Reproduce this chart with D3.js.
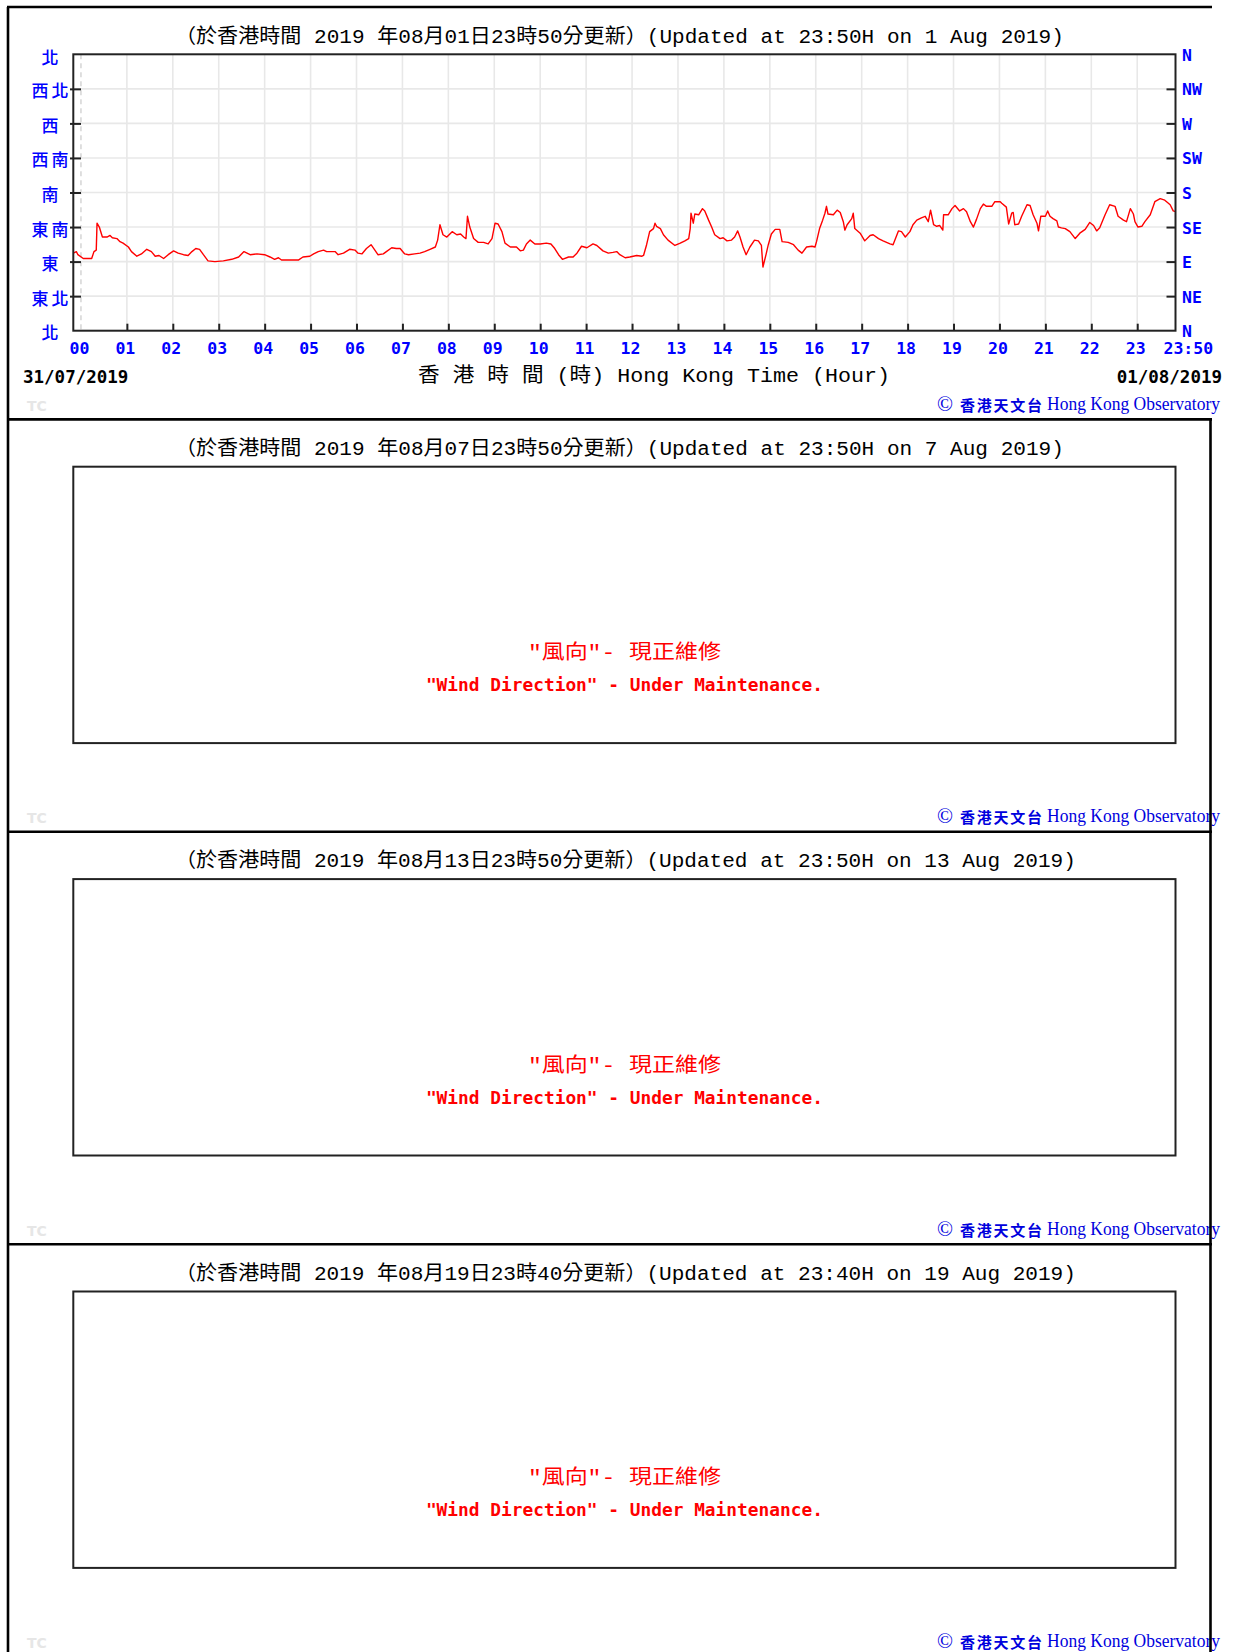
<!DOCTYPE html>
<html>
<head>
<meta charset="utf-8">
<script src="https://cdn.jsdelivr.net/npm/d3@7"></script>
<style>
html, body { margin: 0; padding: 0; background: #fff; }
svg { display: block; }
</style>
</head>
<body>
<svg id="chart" width="1233" height="1652"></svg>
<script>
// wind direction trace, minutes after 00:00 on 01/08/2019 (first point is 23:50 the day before)
var traceMinutes = [-10,-6,-4,3,14,17,20,21,24,28,34,38,41,47,51,55,62,66,73,79,86,92,97,102,108,114,121,127,134,140,145,150,155,160,166,175,186,197,206,213,221,230,
	240,247,253,258,262,284,290,299,304,310,317,321,332,336,343,351,358,362,367,373,379,384,388,395,399,406,412,417,423,428,436,443,449,456,463,466,469,473,
	478,485,491,496,500,503,505,508,513,519,526,532,537,541,545,550,554,561,569,574,578,582,587,593,600,608,614,619,624,629,637,643,648,654,661,669,674,682,689,695,700,704,711,717,
	726,733,735,739,743,748,750,752,757,761,767,776,783,789,794,796,797,800,802,807,812,815,820,824,828,835,839,844,850,854,858,861,865,869,874,880,885,889,891,895,898,902,907,913,916,924,931,937,942,948,955,959,
	961,965,969,972,974,976,983,988,992,996,998,1001,1007,1009,1011,1018,1024,1031,1035,1042,1048,1057,1061,1068,1072,1077,1083,1087,1092,1098,1103,1107,1110,1114,1118,1122,1126,1127,1133,1138,1142,1148,1153,1157,1162,1166,1170,1175,1179,1183,1190,1194,1201,
	1203,1209,1212,1216,1218,1220,1225,1229,1236,1240,1244,1249,1251,1254,1260,1263,1266,1270,1275,1277,1281,1286,1292,1299,1305,1312,1318,1323,1327,1331,1338,1344,1351,1355,1362,1366,1371,1375,1377,1381,1386,1390,1397,1403,1410,1416,1423,1427,1430];
var traceDegrees = [101,103,99,94,94,103,105,140,135,122,122,124,121,120,116,114,109,103,97,100,106,103,97,98,94,99,104,101,99,98,103,107,106,99,91,90,91,93,96,103,99,100,
	99,96,93,95,92,92,96,97,100,103,105,103,103,99,101,106,105,101,100,107,112,105,99,100,103,108,107,107,100,99,100,101,103,106,109,118,138,125,
	122,129,125,126,122,120,149,135,120,115,115,113,120,140,139,129,114,109,109,104,105,113,118,113,113,114,113,107,99,93,96,96,101,110,108,113,111,104,101,102,103,99,95,96,
	98,97,98,112,129,133,140,136,133,125,118,111,114,117,120,133,153,140,152,151,159,156,144,135,125,120,121,117,118,122,130,122,109,99,109,118,117,111,83,99,112,126,132,132,116,115,112,105,101,109,110,109,
	116,133,144,153,162,152,151,157,154,142,131,138,146,153,133,127,117,124,125,120,117,113,112,130,129,122,129,138,144,147,149,142,157,138,136,137,131,151,151,159,163,156,159,155,142,135,145,159,165,162,162,168,168,
	166,161,139,153,154,138,139,149,164,163,151,140,130,149,149,156,149,146,143,135,134,133,129,120,127,132,141,137,130,134,151,164,162,149,144,142,159,152,142,135,136,142,151,168,172,170,164,156,155];

var hourLabels = ["00","01","02","03","04","05","06","07","08","09","10","11",
	"12","13","14","15","16","17","18","19","20","21","22","23"];
var endLabel = "23:50";
var dirDegrees = [0, 45, 90, 135, 180, 225, 270, 315, 360];
var dirLabelsCn = ["北", "東北", "東", "東南", "南", "西南", "西", "西北", "北"];
var dirLabelsEn = ["N", "NE", "E", "SE", "S", "SW", "W", "NW", "N"];
var dateLabels = ["31/07/2019", "01/08/2019"];

var panelTitles = [
	"（於香港時間 2019 年08月01日23時50分更新）(Updated at 23:50H on 1 Aug 2019)",
	"（於香港時間 2019 年08月07日23時50分更新）(Updated at 23:50H on 7 Aug 2019)",
	"（於香港時間 2019 年08月13日23時50分更新）(Updated at 23:50H on 13 Aug 2019)",
	"（於香港時間 2019 年08月19日23時40分更新）(Updated at 23:40H on 19 Aug 2019)"
];
var axisTitle = "香 港 時 間 (時) Hong Kong Time (Hour)";
var noticeCn = "\"風向\"- 現正維修";
var noticeEn = "\"Wind Direction\" - Under Maintenance.";
var creditCn = "香港天文台";
var creditEn = "Hong Kong Observatory";


var blue = "#0000ff";
var panelStep = 412.4;
var panelTops = panelTitles.map(function(t, i){ return 7 + i * panelStep; });
var plot = { left: 73.3, right: 1175.5, top: 47.3, height: 276.4 };
var cjk = "'Noto Sans CJK TC', sans-serif";
var mono = "'Liberation Mono', 'Noto Sans CJK TC', monospace";
var boldMono = "'DejaVu Sans Mono', monospace";

var x = d3.scaleLinear()
	.domain([traceMinutes[0], traceMinutes[traceMinutes.length - 1]])
	.range([plot.left, plot.right]);
var y = d3.scaleLinear()
	.domain([0, 360])
	.range([plot.top + plot.height, plot.top]);

var svg = d3.select("#chart");

// width of a title in the old bitmap font: full-width glyphs take a wider cell
function cellWidth(str, full, half){
	var w = 0;
	for (var c of str) { w += c.charCodeAt(0) > 0x2e80 ? full : half; }
	return w;
}

function addTitle(g, text){
	g.append("text")
		.attr("x", 175)
		.attr("y", 30)
		.attr("dominant-baseline", "central")
		.attr("font-family", mono)
		.attr("font-size", 20)
		.attr("fill", "#000")
		.attr("textLength", cellWidth(text, 23, 12.06))
		.attr("lengthAdjust", "spacingAndGlyphs")
		.text(text);
}

function addFooter(g){
	g.append("text")
		.attr("x", 27).attr("y", 399)
		.attr("dominant-baseline", "central")
		.attr("font-family", "'DejaVu Sans', sans-serif")
		.attr("font-weight", "bold")
		.attr("font-size", 14)
		.attr("fill", "#e6e6e6")
		.text("TC");
	var credit = g.append("text")
		.attr("y", 397)
		.attr("dominant-baseline", "central")
		.attr("fill", "#0000dd");
	credit.append("tspan")
		.attr("x", 937)
		.attr("font-family", "'Liberation Serif', serif")
		.attr("font-size", 21)
		.text("©");
	credit.append("tspan")
		.attr("x", 960)
		.attr("font-family", cjk)
		.attr("font-weight", "bold")
		.attr("font-size", 15)
		.attr("textLength", 82)
		.attr("lengthAdjust", "spacing")
		.text(creditCn);
	credit.append("tspan")
		.attr("x", 1047)
		.attr("font-family", "'Liberation Serif', serif")
		.attr("font-size", 18)
		.attr("textLength", 173)
		.attr("lengthAdjust", "spacingAndGlyphs")
		.text(creditEn);
}

function addGrid(g){
	var hours = hourLabels.map(function(h, i){ return i * 60; });
	g.append("g").selectAll("line")
		.data(hours)
		.join("line")
		.attr("x1", function(d){ return x(d); })
		.attr("x2", function(d){ return x(d); })
		.attr("y1", plot.top)
		.attr("y2", plot.top + plot.height)
		.attr("stroke", function(d){ return d === 0 ? "#d8d8d8" : "#e8e8e8"; })
		.attr("stroke-width", 1.6)
		.attr("stroke-dasharray", function(d){ return d === 0 ? "5,4" : null; });
	g.append("g").selectAll("line")
		.data(dirDegrees.slice(1, -1))
		.join("line")
		.attr("x1", plot.left)
		.attr("x2", plot.right)
		.attr("y1", function(d){ return y(d); })
		.attr("y2", function(d){ return y(d); })
		.attr("stroke", "#e8e8e8")
		.attr("stroke-width", 1.6);
}

function addAxes(g){
	var inner = dirDegrees.slice(1, -1);
	var hours = hourLabels.slice(1).map(function(h, i){ return (i + 1) * 60; });
	var left = d3.axisRight(y).tickValues(inner).tickSize(11).tickFormat("");
	var right = d3.axisLeft(y).tickValues(inner).tickSize(9).tickFormat("");
	var bottom = d3.axisTop(x).tickValues(hours).tickSize(7).tickFormat("");
	[
		[left, "translate(70,0)"],
		[right, "translate(" + plot.right + ",0)"],
		[bottom, "translate(0," + (plot.top + plot.height) + ")"]
	].forEach(function(a){
		var ax = g.append("g").attr("transform", a[1]).call(a[0]);
		ax.select(".domain").remove();
		ax.selectAll(".tick line").attr("stroke", "#222").attr("stroke-width", 2);
	});

	// direction names, Chinese on the left, English on the right
	g.append("g").selectAll("text")
		.data(dirDegrees)
		.join("text")
		.attr("x", 51.5)
		.attr("y", function(d, i){ return i === dirDegrees.length - 1 ? y(d) + 2.5 : y(d) + 1; })
		.attr("text-anchor", "middle")
		.attr("dominant-baseline", "central")
		.attr("font-family", cjk)
		.attr("font-weight", 500)
		.attr("font-size", 17)
		.attr("letter-spacing", 3)
		.attr("fill", blue)
		.text(function(d, i){ return dirLabelsCn[i]; });
	g.append("g").selectAll("text")
		.data(dirDegrees)
		.join("text")
		.attr("x", 1182)
		.attr("y", function(d, i){ return i === dirDegrees.length - 1 ? y(d) + 1.5 : y(d) + 1; })
		.attr("dominant-baseline", "central")
		.attr("font-family", boldMono)
		.attr("font-weight", "bold")
		.attr("font-size", 16.5)
		.attr("fill", blue)
		.text(function(d, i){ return dirLabelsEn[i]; });

	// hour labels
	var labelY = plot.top + plot.height + 18;
	g.append("g").selectAll("text")
		.data(hourLabels)
		.join("text")
		.attr("x", function(d, i){ return x(i * 60) - 1.5; })
		.attr("y", labelY)
		.attr("text-anchor", "middle")
		.attr("dominant-baseline", "central")
		.attr("font-family", boldMono)
		.attr("font-weight", "bold")
		.attr("font-size", 16.5)
		.attr("fill", blue)
		.text(function(d){ return d; });
	g.append("text")
		.attr("x", x(traceMinutes[traceMinutes.length - 1]) - 12)
		.attr("y", labelY)
		.attr("dominant-baseline", "central")
		.attr("font-family", boldMono)
		.attr("font-weight", "bold")
		.attr("font-size", 16.5)
		.attr("fill", blue)
		.text(endLabel);

	var dateY = plot.top + plot.height + 46;
	g.selectAll("text.date")
		.data(dateLabels)
		.join("text")
		.attr("class", "date")
		.attr("x", function(d, i){ return i === 0 ? 23 : 1222; })
		.attr("y", dateY)
		.attr("text-anchor", function(d, i){ return i === 0 ? "start" : "end"; })
		.attr("dominant-baseline", "central")
		.attr("font-family", boldMono)
		.attr("font-weight", "bold")
		.attr("font-size", 17.5)
		.attr("fill", "#000")
		.text(function(d){ return d; });

	g.append("text")
		.attr("x", 418)
		.attr("y", dateY)
		.attr("dominant-baseline", "central")
		.attr("font-family", mono)
		.attr("font-size", 20)
		.attr("fill", "#000")
		.attr("textLength", 472)
		.attr("lengthAdjust", "spacingAndGlyphs")
		.text(axisTitle);
}

function addFrame(g){
	g.append("rect")
		.attr("x", plot.left)
		.attr("y", plot.top)
		.attr("width", plot.right - plot.left)
		.attr("height", plot.height)
		.attr("fill", "none")
		.attr("stroke", "#222")
		.attr("stroke-width", 2);
}

function addNotice(g){
	var cx = (plot.left + plot.right) / 2;
	g.append("text")
		.attr("x", cx).attr("y", plot.top + 187)
		.attr("text-anchor", "middle")
		.attr("dominant-baseline", "central")
		.attr("font-family", mono)
		.attr("font-size", 20)
		.attr("fill", "#ff0000")
		.attr("textLength", 193)
		.attr("lengthAdjust", "spacingAndGlyphs")
		.text(noticeCn);
	g.append("text")
		.attr("x", cx).attr("y", plot.top + 218.5)
		.attr("text-anchor", "middle")
		.attr("dominant-baseline", "central")
		.attr("font-family", boldMono)
		.attr("font-weight", "bold")
		.attr("font-size", 17.5)
		.attr("fill", "#ff0000")
		.attr("textLength", 397)
		.attr("lengthAdjust", "spacingAndGlyphs")
		.text(noticeEn);
}

var panels = svg.selectAll("g.panel")
	.data(panelTitles)
	.join("g")
	.attr("class", "panel")
	.attr("transform", function(d, i){ return "translate(0," + panelTops[i] + ")"; });

panels.each(function(title, i){
	var g = d3.select(this);
	addTitle(g, title);
	if (i === 0) {
		addGrid(g);
		var line = d3.line()
			.x(function(d){ return x(d); })
			.y(function(d, j){ return y(traceDegrees[j]); });
		g.append("path")
			.datum(traceMinutes)
			.attr("d", line)
			.attr("fill", "none")
			.attr("stroke", "#ff0000")
			.attr("stroke-width", 1.4)
			.attr("stroke-linejoin", "round");
		addAxes(g);
		addFrame(g);
	} else {
		addFrame(g);
		addNotice(g);
	}
	addFooter(g);
});

// outer rules between the stacked images
var rules = svg.append("g").attr("stroke", "#000").attr("stroke-width", 2.6);
rules.selectAll("line.sep")
	.data(panelTops)
	.join("line")
	.attr("class", "sep")
	.attr("x1", 7).attr("x2", 1212)
	.attr("y1", function(d){ return d; })
	.attr("y2", function(d){ return d; });
rules.append("line")
	.attr("x1", 8).attr("x2", 8)
	.attr("y1", panelTops[0]).attr("y2", 1652);
rules.append("line")
	.attr("x1", 1210.5).attr("x2", 1210.5)
	.attr("y1", panelTops[1]).attr("y2", 1652);
</script>
</body>
</html>
